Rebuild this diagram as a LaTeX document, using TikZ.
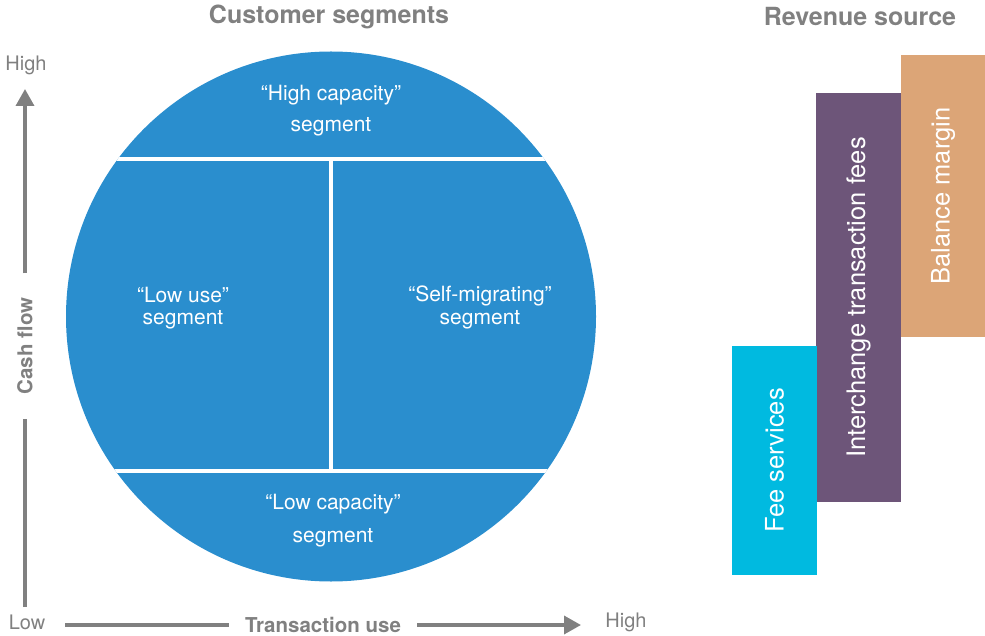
\documentclass[tikz,border=0pt]{standalone}
\usepackage{fontspec}
\setmainfont{TeX Gyre Heros}
\usetikzlibrary{positioning,arrows.meta}

\definecolor{segblue}{HTML}{2A8ECE}
\definecolor{feecyan}{HTML}{00BAE0}
\definecolor{ichpurple}{HTML}{6D5579}
\definecolor{baltan}{HTML}{DCA577}
\definecolor{axisgray}{HTML}{808080}

\begin{document}
\begin{tikzpicture}[
            x=1pt, y=-1pt,
            title/.style={text=axisgray, font=\fontsize{25}{28}\selectfont\bfseries},
            seglabel/.style={text=white, align=center, font=\fontsize{21}{31}\selectfont},
            axislabel/.style={text=axisgray, font=\fontsize{20}{24}\selectfont},
            axisname/.style={text=axisgray, font=\fontsize{20.5}{24}\selectfont\bfseries},
            axisline/.style={draw=axisgray, line width=3.5pt},
            axisarrow/.style={axisline, -{Triangle[length=17pt,width=18pt]}},
            bar/.style={rotate=90, text=white, font=\fontsize{25.5}{30}\selectfont, minimum height=85pt, inner sep=0pt}
        ]
        \useasboundingbox (0,0) rectangle (985,636);

        % headings
        \node[title] (segtitle) at (329,17) {Customer segments};
        \node[title] (revtitle) at (860,17) {Revenue source};

        % segment disc with white dividers
        \fill[segblue] (331,316.5) circle[radius=265pt];
        \begin{scope}
            \clip (331,316.5) circle[radius=265pt];
            \draw[white, line width=4pt] (60,159) -- (600,159);
            \draw[white, line width=4pt] (60,471) -- (600,471);
            \draw[white, line width=4pt] (331,159) -- (331,471);
        \end{scope}

        \node[seglabel] (hicap) at (331,111) {“High capacity”\\segment};
        \node[seglabel, font=\fontsize{21}{22.5}\selectfont] (lowuse) at (183,308) {“Low use”\\segment};
        \node[seglabel, font=\fontsize{21}{22.5}\selectfont] (selfmig) at (480,307.5) {“Self-migrating”\\segment};
        \node[seglabel, font=\fontsize{21}{33}\selectfont] (lowcap) at (333,521) {“Low capacity”\\segment};

        % axes
        \coordinate (ylow) at (25,607);
        \coordinate (yhigh) at (25,89);
        \node[axisname, rotate=90, inner xsep=24pt] (cashflow) at (25,346) {Cash flow};
        \draw[axisline] (ylow) -- (cashflow.west);
        \draw[axisarrow] (cashflow.east) -- (yhigh);

        \coordinate (xlow) at (65,625);
        \coordinate (xhigh) at (581,625);
        \node[axisname, inner xsep=16pt] (transuse) at (323,625) {Transaction use};
        \draw[axisline] (xlow) -- (transuse.west);
        \draw[axisarrow] (transuse.east) -- (xhigh);

        \node[axislabel] (yhighlbl) at (26,65) {High};
        \node[axislabel] (origin) at (27,622) {Low};
        \node[axislabel] (xhighlbl) at (626,622) {High};

        % revenue bars
        \node[bar, fill=ichpurple, minimum width=409pt] (ichfees) at (858.5,297.5) {Interchange transaction fees};
        \node[bar, fill=feecyan, minimum width=229pt] (feeserv) at (774.5,460.5) {Fee services};
        \node[bar, fill=baltan, minimum width=282pt] (balmargin) at (943,196) {Balance margin};
\end{tikzpicture}
\end{document}
